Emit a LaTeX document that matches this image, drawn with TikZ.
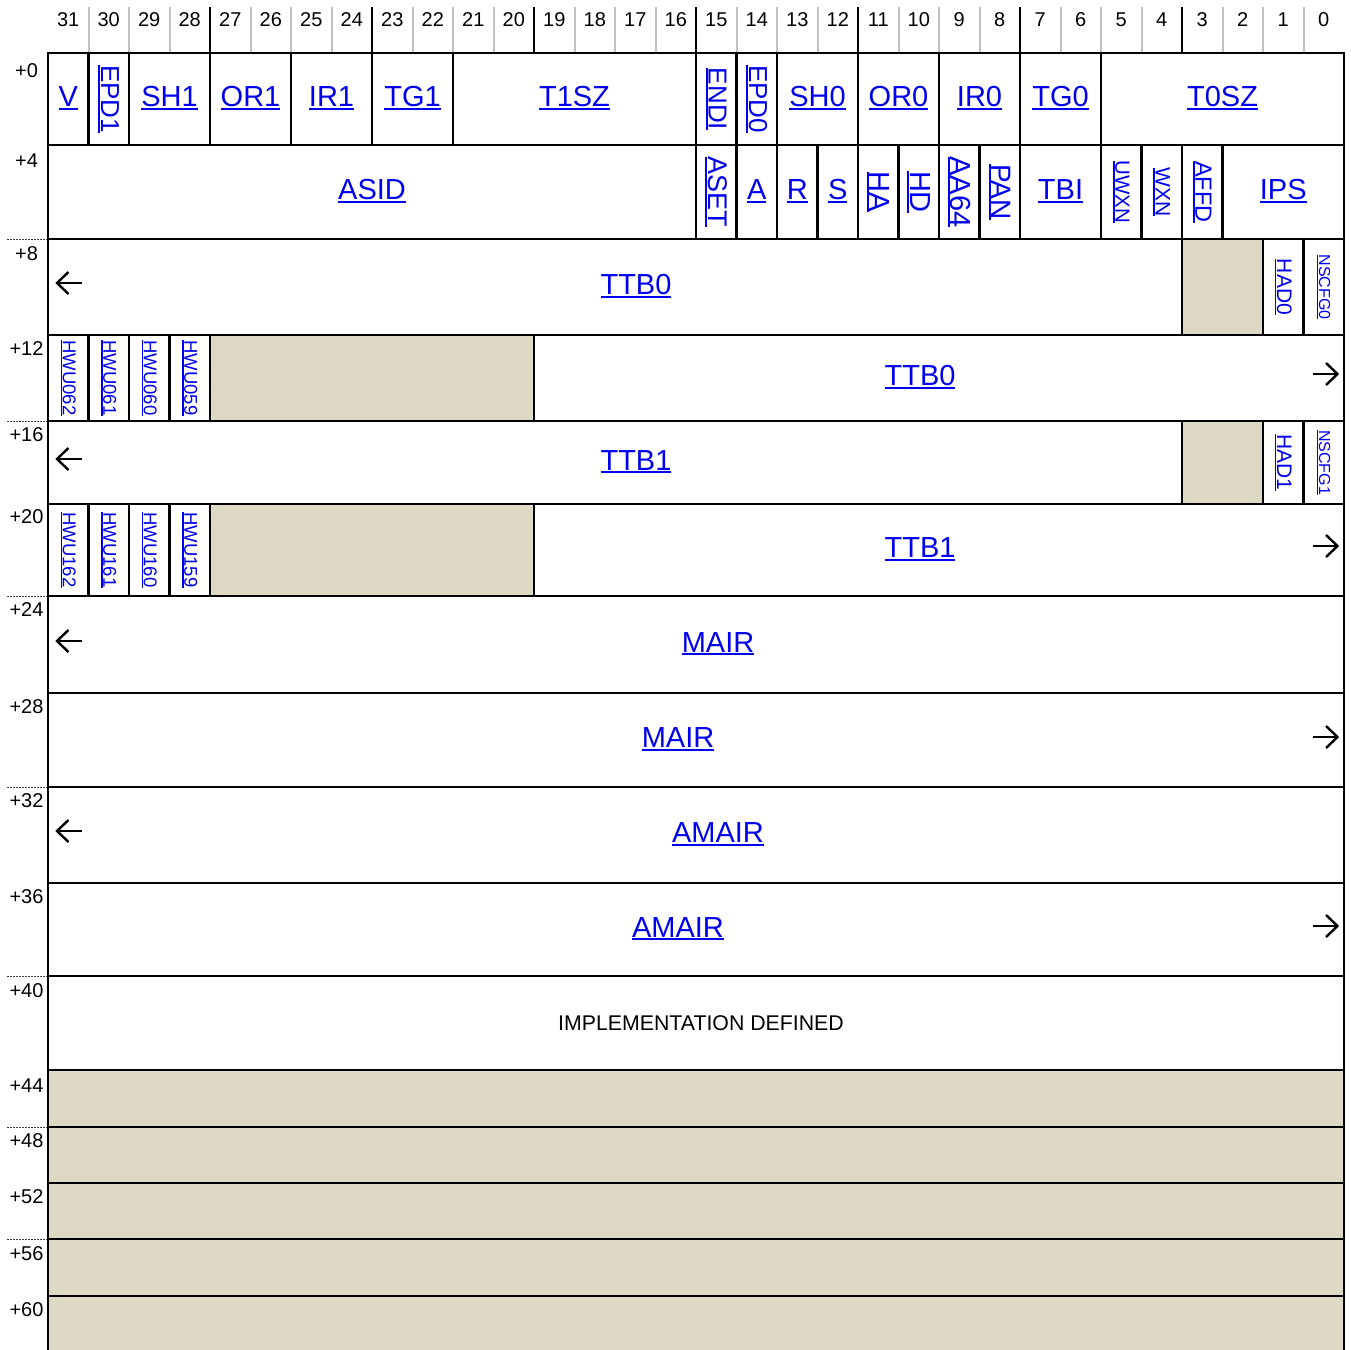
\documentclass[tikz,border=0pt]{standalone}
\usepackage{fontspec}
\setmainfont{Liberation Sans}
\definecolor{lnk}{RGB}{0,0,238}
\definecolor{rsvcol}{RGB}{222,217,196}
\definecolor{hdrgray}{RGB}{192,192,192}
\newsavebox\ulbox
\newcommand\ul[1]{\sbox\ulbox{#1}\rlap{\rule[-0.105em]{\wd\ulbox}{0.07em}}\usebox\ulbox}
\tikzset{
  fieldbox/.style={draw=black, line width=2.2pt, rectangle, inner sep=0pt, outer sep=0pt, fill=white},
  rsv/.style={fill=rsvcol},
  hl/.style={text=lnk, font=\fontsize{29}{29}\selectfont, inner sep=0pt, anchor=base},
  vl/.style={text=lnk, inner sep=0pt, rotate=-90},
  arrline/.style={line width=2.4pt, black, line cap=butt, line join=miter},
  num/.style={font=\fontsize{20}{20}\selectfont, inner sep=0pt, anchor=base},
  dotline/.style={line width=1pt, black!75, dash pattern=on 2pt off 1pt},
}
% [style] name hi lo top bottom
\newcommand\regfld[6][]{%
  \pgfmathsetmacro\fxa{48+(31-#3)*40.5}%
  \pgfmathsetmacro\fxb{48+(32-#4)*40.5}%
  \pgfmathsetmacro\fw{\fxb-\fxa}%
  \pgfmathsetmacro\fh{#6-#5}%
  \pgfmathsetmacro\fcx{(\fxa+\fxb)/2}%
  \pgfmathsetmacro\fcy{(#5+#6)/2}%
  \node[fieldbox,#1,minimum width=\fw pt,minimum height=\fh pt] (#2) at (\fcx,\fcy) {};%
}
% horizontal label centred in field
\newcommand\hlab[2]{\node[hl] (t#1) at ([yshift=-7.5pt]#1.center) {\ul{#2}};}
% vertical label: size, field, text
\newcommand\vlab[3]{\node[vl,font=\fontsize{#1}{#1}\selectfont] (t#2) at (#2.center) {\ul{#3}};}
% continuation arrows: name, x, y
\newcommand\larrow[3]{%
  \coordinate (#1) at (#2,#3);%
  \draw[arrline] ([xshift=12.5pt]#1) -- ([xshift=-12pt]#1);%
  \draw[arrline] ([xshift=-1pt,yshift=11pt]#1) -- ([xshift=-12.5pt]#1) -- ([xshift=-1pt,yshift=-11pt]#1);%
}
\newcommand\rarrow[3]{%
  \coordinate (#1) at (#2,#3);%
  \draw[arrline] ([xshift=-12.5pt]#1) -- ([xshift=12pt]#1);%
  \draw[arrline] ([xshift=1pt,yshift=11pt]#1) -- ([xshift=12.5pt]#1) -- ([xshift=1pt,yshift=-11pt]#1);%
}
\begin{document}
\begin{tikzpicture}[x=1pt,y=-1pt]
\useasboundingbox (0,0) rectangle (1351,1349);
\clip (0,0) rectangle (1351,1349);
\fill[white] (0,0) rectangle (1351,1349);

% header
\foreach \b in {31,...,0} {
  \node[num] (h\b) at ({48+(31-\b)*40.5+20.25},27) {\b};
}
\foreach \b in {30,...,0} {
  \pgfmathtruncatemacro\m{mod(\b,4)}
  \ifnum\m=3 \def\sepc{black}\else\def\sepc{hdrgray}\fi
  \draw[line width=2pt,\sepc] ({48+(31-\b)*40.5},7) -- ({48+(31-\b)*40.5},53);
}

% offset labels
\node[num] (o0) at (26.5,77) {+0};
\node[num] (o4) at (26.5,167) {+4};
\node[num] (o8) at (26.5,260) {+8};
\node[num] (o12) at (26.5,355) {+12};
\node[num] (o16) at (26.5,441) {+16};
\node[num] (o20) at (26.5,523) {+20};
\node[num] (o24) at (26.5,616) {+24};
\node[num] (o28) at (26.5,713) {+28};
\node[num] (o32) at (26.5,807) {+32};
\node[num] (o36) at (26.5,903) {+36};
\node[num] (o40) at (26.5,997) {+40};
\node[num] (o44) at (26.5,1092) {+44};
\node[num] (o48) at (26.5,1147) {+48};
\node[num] (o52) at (26.5,1203) {+52};
\node[num] (o56) at (26.5,1260) {+56};
\node[num] (o60) at (26.5,1316) {+60};
\foreach \yy in {239,421,596,787,976,1127,1239} {
  \draw[dotline] (7,\yy) -- (47,\yy);
}

% row +0
\regfld{fV}{31}{31}{53}{145}
\regfld{fEPDa}{30}{30}{53}{145}
\regfld{fSHa}{29}{28}{53}{145}
\regfld{fORa}{27}{26}{53}{145}
\regfld{fIRa}{25}{24}{53}{145}
\regfld{fTGa}{23}{22}{53}{145}
\regfld{fTaSZ}{21}{16}{53}{145}
\regfld{fENDI}{15}{15}{53}{145}
\regfld{fEPDz}{14}{14}{53}{145}
\regfld{fSHz}{13}{12}{53}{145}
\regfld{fORz}{11}{10}{53}{145}
\regfld{fIRz}{9}{8}{53}{145}
\regfld{fTGz}{7}{6}{53}{145}
\regfld{fTzSZ}{5}{0}{53}{145}
\hlab{fV}{V}
\vlab{26}{fEPDa}{EPD1}
\hlab{fSHa}{SH1}
\hlab{fORa}{OR1}
\hlab{fIRa}{IR1}
\hlab{fTGa}{TG1}
\hlab{fTaSZ}{T1SZ}
\vlab{26}{fENDI}{ENDI}
\vlab{26}{fEPDz}{EPD0}
\hlab{fSHz}{SH0}
\hlab{fORz}{OR0}
\hlab{fIRz}{IR0}
\hlab{fTGz}{TG0}
\hlab{fTzSZ}{T0SZ}

% row +4
\regfld{fASID}{31}{16}{145}{239}
\regfld{fASET}{15}{15}{145}{239}
\regfld{fA}{14}{14}{145}{239}
\regfld{fR}{13}{13}{145}{239}
\regfld{fS}{12}{12}{145}{239}
\regfld{fHA}{11}{11}{145}{239}
\regfld{fHD}{10}{10}{145}{239}
\regfld{fAA}{9}{9}{145}{239}
\regfld{fPAN}{8}{8}{145}{239}
\regfld{fTBI}{7}{6}{145}{239}
\regfld{fUWXN}{5}{5}{145}{239}
\regfld{fWXN}{4}{4}{145}{239}
\regfld{fAFFD}{3}{3}{145}{239}
\regfld{fIPS}{2}{0}{145}{239}
\hlab{fASID}{ASID}
\vlab{27}{fASET}{ASET}
\hlab{fA}{A}
\hlab{fR}{R}
\hlab{fS}{S}
\vlab{29}{fHA}{HA}
\vlab{29}{fHD}{HD}
\vlab{29}{fAA}{AA64}
\vlab{28}{fPAN}{PAN}
\hlab{fTBI}{TBI}
\vlab{20.5}{fUWXN}{UWXN}
\vlab{21}{fWXN}{WXN}
\vlab{23.5}{fAFFD}{AFFD}
\hlab{fIPS}{IPS}

% row +8
\regfld{fTTBzL}{31}{4}{239}{335}
\regfld[rsv]{fRa}{3}{2}{239}{335}
\regfld{fHADz}{1}{1}{239}{335}
\regfld{fNSz}{0}{0}{239}{335}
\node[hl] (tTTBzL) at (636,294.5) {\ul{TTB0}};
\larrow{aL8}{69.5}{283}
\vlab{21}{fHADz}{HAD0}
\vlab{16}{fNSz}{NSCFG0}

% row +12
\regfld{fHWUa}{31}{31}{335}{421}
\regfld{fHWUb}{30}{30}{335}{421}
\regfld{fHWUc}{29}{29}{335}{421}
\regfld{fHWUd}{28}{28}{335}{421}
\regfld[rsv]{fRb}{27}{20}{335}{421}
\regfld{fTTBzH}{19}{0}{335}{421}
\vlab{18.5}{fHWUa}{HWU062}
\vlab{18.5}{fHWUb}{HWU061}
\vlab{18.5}{fHWUc}{HWU060}
\vlab{18.5}{fHWUd}{HWU059}
\node[hl] (tTTBzH) at (920,385.5) {\ul{TTB0}};
\rarrow{aR12}{1325}{374}

% row +16
\regfld{fTTBaL}{31}{4}{421}{504}
\regfld[rsv]{fRc}{3}{2}{421}{504}
\regfld{fHADa}{1}{1}{421}{504}
\regfld{fNSa}{0}{0}{421}{504}
\node[hl] (tTTBaL) at (636,470) {\ul{TTB1}};
\larrow{aL16}{69.5}{459}
\vlab{21}{fHADa}{HAD1}
\vlab{16}{fNSa}{NSCFG1}

% row +20
\regfld{fHWUe}{31}{31}{504}{596}
\regfld{fHWUf}{30}{30}{504}{596}
\regfld{fHWUg}{29}{29}{504}{596}
\regfld{fHWUh}{28}{28}{504}{596}
\regfld[rsv]{fRd}{27}{20}{504}{596}
\regfld{fTTBaH}{19}{0}{504}{596}
\vlab{18.5}{fHWUe}{HWU162}
\vlab{18.5}{fHWUf}{HWU161}
\vlab{18.5}{fHWUg}{HWU160}
\vlab{18.5}{fHWUh}{HWU159}
\node[hl] (tTTBaH) at (920,557.5) {\ul{TTB1}};
\rarrow{aR20}{1325}{546}

% row +24 / +28 MAIR
\regfld{fMAIRL}{31}{0}{596}{693}
\node[hl] (tMAIRL) at (718,652) {\ul{MAIR}};
\larrow{aL24}{69.5}{641}
\regfld{fMAIRH}{31}{0}{693}{787}
\node[hl] (tMAIRH) at (678,747.5) {\ul{MAIR}};
\rarrow{aR28}{1325}{737}

% row +32 / +36 AMAIR
\regfld{fAMAIRL}{31}{0}{787}{883}
\node[hl] (tAMAIRL) at (718,842.5) {\ul{AMAIR}};
\larrow{aL32}{69.5}{831}
\regfld{fAMAIRH}{31}{0}{883}{976}
\node[hl] (tAMAIRH) at (678,937) {\ul{AMAIR}};
\rarrow{aR36}{1325}{926}

% row +40
\regfld{fIMP}{31}{0}{976}{1070}
\node[inner sep=0pt, anchor=base, font=\fontsize{21.3}{21.3}\selectfont] (tIMP) at (701,1030) {IMPLEMENTATION DEFINED};

% reserved rows
\regfld[rsv]{fR44}{31}{0}{1070}{1127}
\regfld[rsv]{fR48}{31}{0}{1127}{1183}
\regfld[rsv]{fR52}{31}{0}{1183}{1239}
\regfld[rsv]{fR56}{31}{0}{1239}{1296}
\regfld[rsv]{fR60}{31}{0}{1296}{1370}
\end{tikzpicture}
\end{document}
